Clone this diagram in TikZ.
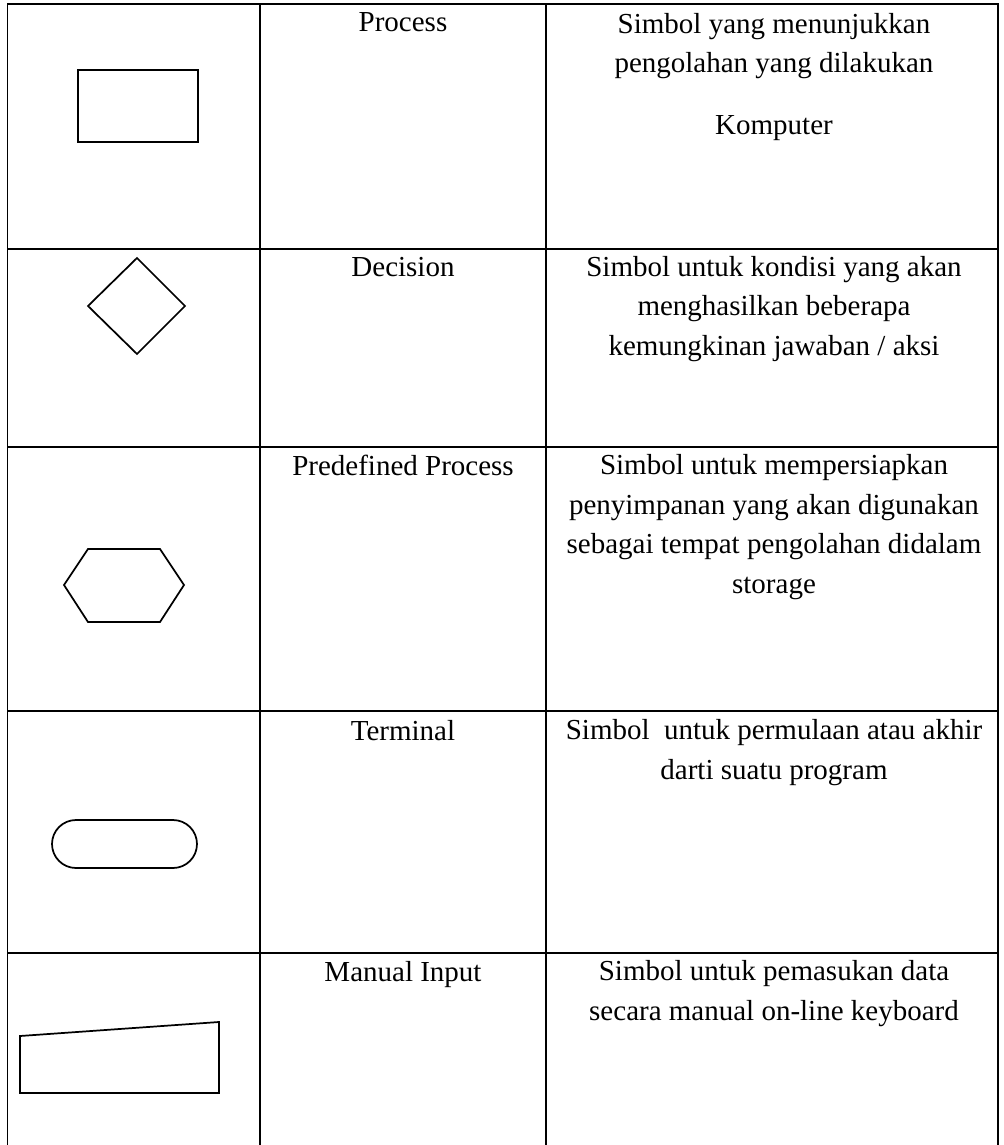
\documentclass[tikz,border=0pt]{standalone}
\usepackage{fontspec}
\setmainfont{Liberation Serif}

\begin{document}
\begin{tikzpicture}[x=0.75pt,y=-0.75pt,
  gridline/.style={line width=0.9pt},
  symbol/.style={line width=1.3pt,line join=miter},
  celltext/.style={anchor=base,align=center,inner sep=0pt,
    font=\fontsize{21.75}{29.6}\selectfont}]
  \useasboundingbox (0,0) rectangle (1003,1145);

  % Table (anchor=base sits on the last line of a text)
  \draw[gridline] (7.5,1145) -- (7.5,4) -- (998,4) -- (998,1145);
  \foreach \x in {260,546}
    \draw[gridline] (\x,4) -- (\x,1145);
  \foreach \y in {249,447,711,953}
    \draw[gridline] (7.5,\y) -- (998,\y);

  % Process
  \draw[symbol] (78,70) rectangle (198,142);
  \node[celltext] (process) at (403,32) {Process};
  \node[celltext] (processdesc) at (774,135)
    {Simbol yang menunjukkan\\pengolahan yang dilakukan\\[17pt]Komputer};

  % Decision
  \draw[symbol] (137,258) -- (185,306) -- (137,354) -- (88,306) -- cycle;
  \node[celltext] (decision) at (403,276) {Decision};
  \node[celltext] (decisiondesc) at (774,355)
    {Simbol untuk kondisi yang akan\\menghasilkan beberapa\\kemungkinan jawaban / aksi};

  % Predefined process
  \draw[symbol] (64,585) -- (88,549) -- (160,549) -- (184,585) -- (160,622) -- (88,622) -- cycle;
  \node[celltext] (predefined) at (403,475) {Predefined Process};
  \node[celltext] (predefineddesc) at (774,593)
    {Simbol untuk mempersiapkan\\penyimpanan yang akan digunakan\\sebagai tempat pengolahan didalam\\storage};

  % Terminal
  \draw[symbol,rounded corners=18pt] (52,820) rectangle (197,868);
  \node[celltext] (terminal) at (403,740) {Terminal};
  \node[celltext] (terminaldesc) at (774,779)
    {Simbol~ untuk permulaan atau akhir\\darti suatu program};

  % Manual input
  \draw[symbol] (20,1093) -- (20,1036) -- (219,1022) -- (219,1093) -- cycle;
  \node[celltext] (manual) at (403,981) {Manual Input};
  \node[celltext] (manualdesc) at (774,1020)
    {Simbol untuk pemasukan data\\secara manual on-line keyboard};
\end{tikzpicture}
\end{document}
